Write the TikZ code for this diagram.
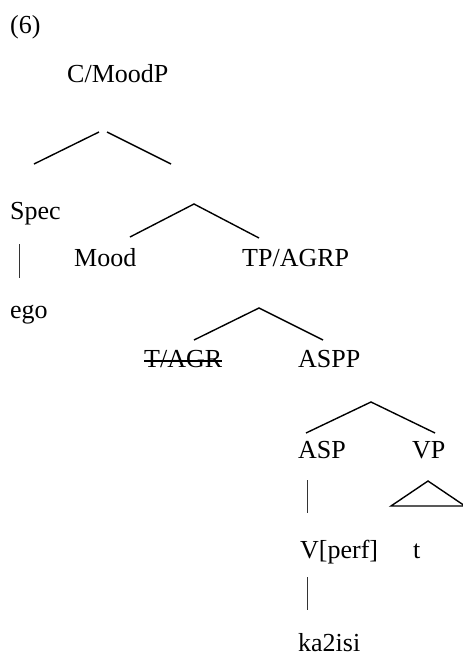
\documentclass[tikz,border=0pt]{standalone}
\usepackage{fontspec}
\setmainfont{Liberation Serif}
\usetikzlibrary{positioning}

\begin{document}
\begin{tikzpicture}[x=1pt, y=-1pt,
  lab/.style={anchor=base west, inner sep=0pt, font=\fontsize{26}{30}\selectfont},
  branch/.style={line width=1.4pt},
  stem/.style={line width=0.8pt, black!80}
]
\useasboundingbox (0,0) rectangle (463,656);

% labels
\node[lab] (ex)     at (10,33)   {(6)};
\node[lab] (cmood)  at (67,82)   {C/MoodP};
\node[lab] (spec)   at (10,219)  {Spec};
\node[lab] (mood)   at (74,266)  {Mood};
\node[lab] (tpagr)  at (242,266) {TP/AGRP};
\node[lab] (ego)    at (10,318)  {ego};
\node[lab] (tagr)   at (144,367) {T/AGR};
\node[lab] (aspp)   at (298,367) {ASPP};
\node[lab] (asp)    at (298,458) {ASP};
\node[lab] (vp)     at (412,458) {VP};
\node[lab] (vperf)  at (300,558) {V[perf]};
\node[lab] (trace)  at (413,558) {t};
\node[lab] (ka)     at (298,651) {ka2isi};

% struck-out head
\draw[line width=1.2pt] ([yshift=6pt]tagr.base west) -- ([yshift=6pt]tagr.base east);

% branch points
\coordinate (c1a) at (99,132);  \coordinate (c1b) at (107,132);
\coordinate (c1l) at (34,164);  \coordinate (c1r) at (171,164);
\coordinate (m1)  at (194,204);
\coordinate (m1l) at (130,237); \coordinate (m1r) at (259,238);
\coordinate (t1)  at (259,308);
\coordinate (t1l) at (194,340); \coordinate (t1r) at (323,340);
\coordinate (a1)  at (371,402);
\coordinate (a1l) at (306,433); \coordinate (a1r) at (435,433);

\draw[branch] (c1l) -- (c1a);
\draw[branch] (c1b) -- (c1r);
\draw[branch] (m1l) -- (m1) -- (m1r);
\draw[branch] (t1l) -- (t1) -- (t1r);
\draw[branch] (a1l) -- (a1) -- (a1r);

% VP triangle
\coordinate (vpt) at (428,481);
\draw[branch, line join=miter] (391,506) -- (vpt) -- (465,506) -- cycle;

% non-branching stems
\coordinate (s1) at (19,244);  \coordinate (s2) at (19,278);
\coordinate (s3) at (307,480); \coordinate (s4) at (307,513);
\coordinate (s5) at (307,577); \coordinate (s6) at (307,610);
\draw[stem] (s1) -- (s2);
\draw[stem] (s3) -- (s4);
\draw[stem] (s5) -- (s6);
\end{tikzpicture}
\end{document}
